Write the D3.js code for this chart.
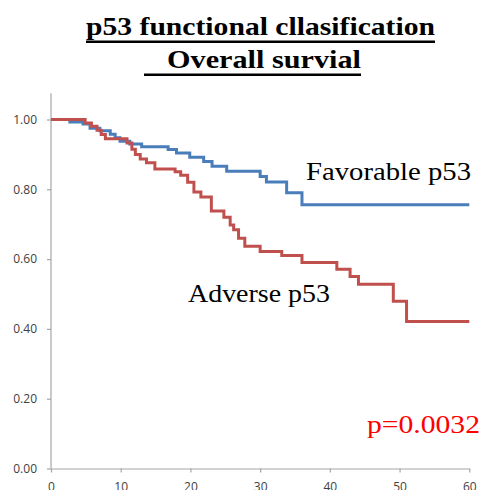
<!DOCTYPE html>
<html>
<head>
<meta charset="utf-8">
<script src="https://cdn.jsdelivr.net/npm/d3@7"></script>
<style>
  body { margin: 0; background: #fff; }
  svg { display: block; }
</style>
</head>
<body>
<div id="chart"></div>
<script>
// survival steps: [month, survival]
let favorable = [[0,1.0],[2.7,0.993],[4.6,0.987],[5.6,0.975],[7.0,0.968],[8.5,0.958],[9.2,0.948],[9.9,0.938],
    [11.3,0.930],[13.0,0.922],[16.8,0.914],[18.0,0.904],[19.9,0.892],[21.9,0.880],[23.1,0.866],[25.2,0.852],
    [30.0,0.837],[30.9,0.821],[33.8,0.790],[36.0,0.756],[60,0.756]];

let adverse = [[0,1.0],[4.9,0.99],[5.8,0.981],[6.6,0.969],[7.2,0.957],[7.8,0.945],[10.9,0.933],[11.6,0.915],
    [12.1,0.900],[12.8,0.887],[13.7,0.876],[14.9,0.858],[17.8,0.850],[18.6,0.840],[19.6,0.820],[20.5,0.792],
    [21.5,0.778],[23.0,0.738],[24.8,0.720],[25.7,0.698],[26.2,0.684],[26.9,0.660],[27.8,0.637],[30.0,0.622],
    [33.1,0.610],[36.0,0.590],[41.0,0.571],[42.9,0.550],[44.1,0.528],[49.1,0.479],[51.0,0.421],[60,0.421]];

let xTicks = [0,10,20,30,40,50,60];
let yTicks = [0,0.2,0.4,0.6,0.8,1.0];

let width = 483, height = 490;

let svg = d3.select("#chart").append("svg")
    .attr("width", width)
    .attr("height", height);

let x = d3.scaleLinear().domain([0,60]).range([51, 469.3]);
let y = d3.scaleLinear().domain([0,1]).range([468.5, 119.5]);

// axes
let xAxis = d3.axisBottom(x).tickValues(xTicks).tickSize(4).tickSizeOuter(0).tickFormat(d3.format("d"));
let yAxis = d3.axisLeft(y).tickValues(yTicks).tickSize(4).tickSizeOuter(0).tickFormat(d3.format(".2f"));

let yAxisGroup = svg.append("g")
    .attr("transform", "translate(" + x(0) + ",0)")
    .call(yAxis);
// extend y axis line above 1.00
yAxisGroup.select(".domain").attr("d", "M0," + y(0) + "V" + y(1.075));

let xAxisGroup = svg.append("g")
    .attr("transform", "translate(0," + y(0) + ")")
    .call(xAxis);

svg.selectAll(".domain, .tick line").attr("stroke", "#a6a6a6").attr("stroke-width", 1.2);
svg.selectAll(".tick text")
    .attr("font-family", "'Open Sans', sans-serif")
    .attr("font-size", "12px")
    .attr("fill", "#404040");
yAxisGroup.selectAll(".tick text").attr("x", -14);
xAxisGroup.selectAll(".tick text").attr("y", 13.5);

// survival curves
let line = d3.line()
    .x(d => x(d[0]))
    .y(d => y(d[1]))
    .curve(d3.curveStepAfter);

svg.append("path")
    .datum(favorable)
    .attr("fill", "none")
    .attr("stroke", "#4a7ebb")
    .attr("stroke-width", 3)
    .attr("d", line);

svg.append("path")
    .datum(adverse)
    .attr("fill", "none")
    .attr("stroke", "#c0504d")
    .attr("stroke-width", 3)
    .attr("d", line);

// labels (text in the picture is a bit stretched sideways)
let serif = "'Liberation Serif', 'Times New Roman', serif";

function label(txt, lx, ly, len, size, color) {
    return svg.append("text").attr("x", lx).attr("y", ly)
        .attr("font-family", serif).attr("font-size", size).attr("fill", color)
        .attr("textLength", len).attr("lengthAdjust", "spacingAndGlyphs")
        .text(txt);
}

label("Favorable p53", 306, 180, 165, "26px", "#000");
label("Adverse p53", 188, 301.5, 142, "25px", "#000");
label("p=0.0032", 367, 433, 113, "26px", "#ff0000");

// title with heavy underline
let t1 = label("p53 functional cllasification", 86, 35, 349, "25px", "#000")
    .attr("font-weight", "bold");
svg.append("rect").attr("x", 86).attr("y", 40.5).attr("width", 349).attr("height", 2.5).attr("fill", "#000");

let t2 = label("Overall survial", 167, 68, 194, "25px", "#000")
    .attr("font-weight", "bold");
svg.append("rect").attr("x", 144).attr("y", 73.5).attr("width", 217).attr("height", 2.5).attr("fill", "#000");
</script>
</body>
</html>
